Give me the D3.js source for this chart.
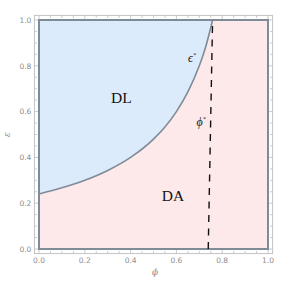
<!DOCTYPE html>
<html lang="en">
<head>
<meta charset="utf-8">
<title>Phase diagram</title>
<script src="https://d3js.org/d3.v7.min.js"></script>
<style>
  body { margin: 0; background: #fff; }
</style>
</head>
<body>
<div id="chart"></div>
<script>
// boundary eps*(phi)
const curvePhi = [0, 0.1, 0.2, 0.3, 0.4, 0.5, 0.55, 0.6, 0.65, 0.7, 0.73, 0.758];
const curveEps = [0.24, 0.267, 0.30, 0.343, 0.40, 0.48, 0.533, 0.60, 0.686, 0.80, 0.89, 1.0];
// dashed phi* line
const starPhi = [0.739, 0.758];
const starEps = [0, 1];
const majorTicks = [0, 0.2, 0.4, 0.6, 0.8, 1.0];
const minorTicks = d3.range(0, 1.0001, 0.05);

const width = 287, height = 283;
const x = d3.scaleLinear().domain([0, 1]).range([39, 268]);
const y = d3.scaleLinear().domain([0, 1]).range([249, 20]);
const pad = 0.02;

const svg = d3.select("#chart").append("svg")
  .attr("width", width).attr("height", height);

const curve = curvePhi.map((p, i) => [p, curveEps[i]]);
const smooth = d3.line().x(d => x(d[0])).y(d => y(d[1])).curve(d3.curveMonotoneX);
const line = d3.line().x(d => x(d[0])).y(d => y(d[1]));
const curvePath = smooth(curve);

// regions: curve first, then corners
const upperCorners = [[0.758, 1], [0, 1]];
svg.append("path")
  .attr("d", curvePath + upperCorners.map(d => `L${x(d[0])},${y(d[1])}`).join("") + "Z")
  .attr("fill", "#dcebfb");
const lowerCorners = [[1, 1], [1, 0], [0, 0]];
svg.append("path")
  .attr("d", curvePath + lowerCorners.map(d => `L${x(d[0])},${y(d[1])}`).join("") + "Z")
  .attr("fill", "#fde9e9");

// frame with ticks
const fx0 = x(-pad), fx1 = x(1 + pad), fy0 = y(-pad), fy1 = y(1 + pad);
svg.append("rect")
  .attr("x", fx0).attr("y", fy1)
  .attr("width", fx1 - fx0).attr("height", fy0 - fy1)
  .attr("fill", "none").attr("stroke", "#c4c4c4").attr("stroke-width", 1);

const tg = svg.append("g").attr("stroke", "#bdbdbd").attr("stroke-width", 0.8);
minorTicks.forEach(t => {
  const major = majorTicks.some(m => Math.abs(m - t) < 1e-6);
  const len = major ? 4.5 : 2.5;
  tg.append("line").attr("x1", x(t)).attr("x2", x(t)).attr("y1", fy0).attr("y2", fy0 - len);
  tg.append("line").attr("x1", x(t)).attr("x2", x(t)).attr("y1", fy1).attr("y2", fy1 + len);
  tg.append("line").attr("y1", y(t)).attr("y2", y(t)).attr("x1", fx0).attr("x2", fx0 + len);
  tg.append("line").attr("y1", y(t)).attr("y2", y(t)).attr("x1", fx1).attr("x2", fx1 - len);
});

const lab = svg.append("g")
  .attr("font-family", "'DejaVu Sans', sans-serif")
  .attr("font-size", 7.5)
  .attr("fill", "#8c8c8c");
majorTicks.forEach(t => {
  lab.append("text").attr("x", x(t)).attr("y", fy0 + 9.5)
    .attr("text-anchor", "middle").text(t.toFixed(1));
  lab.append("text").attr("x", fx0 - 3).attr("y", y(t) + 2.7)
    .attr("text-anchor", "end").text(t.toFixed(1));
});

// axis labels
svg.append("text")
  .attr("transform", `translate(${x(0.507)},${fy0 + 21}) `)
  .attr("text-anchor", "middle")
  .attr("font-family", "'DejaVu Serif', serif").attr("font-style", "italic")
  .attr("font-size", 9).attr("fill", "#8c8c8c").text("ϕ");
svg.append("text")
  .attr("transform", `translate(10,${y(0.5)}) rotate(-90)`)
  .attr("text-anchor", "middle")
  .attr("font-family", "'DejaVu Serif', serif").attr("font-style", "italic")
  .attr("font-size", 9).attr("fill", "#8c8c8c").text("ε");

// outlines
svg.append("rect")
  .attr("x", x(0)).attr("y", y(1))
  .attr("width", x(1) - x(0)).attr("height", y(0) - y(1))
  .attr("fill", "none").attr("stroke", "#7f8b97").attr("stroke-width", 2);
svg.append("path").attr("d", curvePath)
  .attr("fill", "none").attr("stroke", "#7f8b97").attr("stroke-width", 1.6);

// phi* dashed line
svg.append("path")
  .attr("d", line(starPhi.map((p, i) => [p, starEps[i]])))
  .attr("fill", "none").attr("stroke", "#111").attr("stroke-width", 1.4)
  .attr("stroke-dasharray", "7,6.5");

// region labels
const serif = "'Liberation Serif', 'Times New Roman', serif";
svg.append("text").attr("x", x(0.36)).attr("y", y(0.638))
  .attr("text-anchor", "middle").attr("font-family", serif).attr("font-size", 15.5)
  .attr("fill", "#111").text("DL");
svg.append("text").attr("x", x(0.585)).attr("y", y(0.21))
  .attr("text-anchor", "middle").attr("font-family", serif).attr("font-size", 15.5)
  .attr("fill", "#111").text("DA");

function starLabel(sym, px, py) {
  const t = svg.append("text").attr("x", x(px)).attr("y", y(py))
    .attr("text-anchor", "middle").attr("font-family", serif)
    .attr("font-style", "italic")
    .attr("font-size", 12).attr("fill", "#222");
  t.append("tspan").text(sym);
  t.append("tspan").attr("font-size", 6).attr("dy", -5).text("*");
}
starLabel("ϵ", 0.668, 0.815);
starLabel("ϕ", 0.708, 0.535);
</script>
</body>
</html>
